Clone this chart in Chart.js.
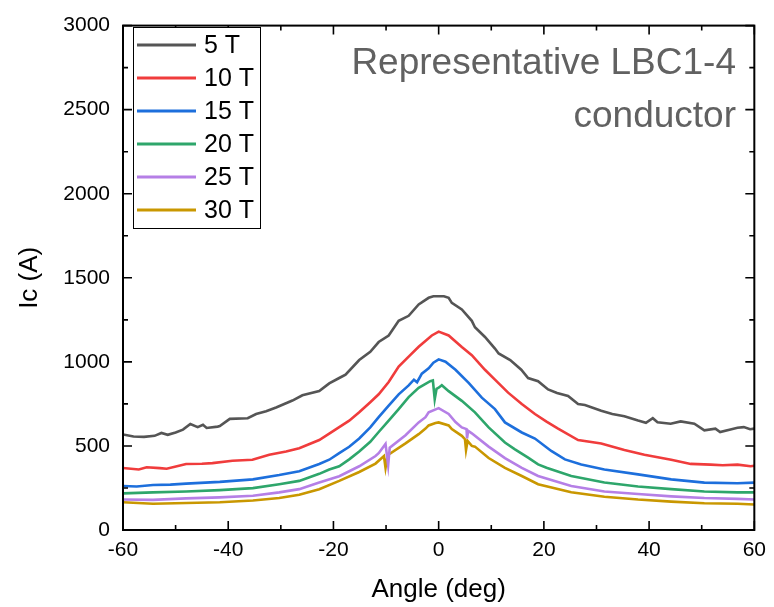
<!DOCTYPE html>
<html lang="en">
<head>
    <meta charset="UTF-8">
    <title>Ic vs Angle - LBC1-4</title>
    <script src="https://cdn.jsdelivr.net/npm/chart.js"></script>
    <style>
        body { margin: 0; background: #fff; }
    </style>
</head>
<body>
    <canvas id="icChart" width="774" height="607"></canvas>

    <script>
        // Series: angle (deg) and Ic (A) for each field
        const seriesLabels = ['5 T', '10 T', '15 T', '20 T', '25 T', '30 T'];
        const seriesColors = ['#555555', '#f03c3c', '#1d6fdc', '#2ea66b', '#b57fe6', '#c99700'];

        const angle5T = [-60, -58, -56, -54, -52.7, -51.5, -50, -48.6, -47.2, -45.8, -44.8, -44.1, -42, -41.6, -39.7, -36.3, -34.7, -32.8, -30.9, -27.8, -25.9, -22.7, -20.8, -18.9, -17.7, -15.1, -13, -11.4, -9.5, -7.6, -5.7, -3.8, -1.9, -1, 0, 1, 1.9, 2.5, 4.4, 6.3, 6.9, 8.8, 10.7, 11.4, 13.6, 15.7, 17, 18.9, 20.8, 22.5, 24.6, 26.5, 27.8, 30.9, 33, 35.3, 37.9, 39.4, 40.7, 41.6, 44.1, 46, 48.6, 50.5, 52.6, 53.5, 56.8, 58, 59.2, 60];
        const ic5T = [568, 556, 554, 560, 577, 566, 580, 597, 630, 612, 626, 607, 615, 618, 661, 665, 690, 706, 729, 770, 801, 826, 872, 904, 924, 1011, 1060, 1118, 1157, 1244, 1274, 1342, 1381, 1390, 1390, 1390, 1381, 1351, 1312, 1244, 1206, 1148, 1079, 1050, 1011, 953, 904, 885, 836, 815, 797, 749, 743, 709, 690, 676, 651, 638, 665, 641, 632, 646, 632, 593, 603, 583, 608, 612, 599, 603];

        const angle10T = [-60, -57, -55.5, -53, -51.7, -48, -45, -43, -39.2, -35.4, -32.2, -29, -26.5, -22.7, -20.8, -18.9, -17, -15.1, -13, -11.4, -9.5, -7.6, -5.7, -3.8, -1.3, 0, 1.9, 4.4, 6.3, 8.8, 10.7, 13.2, 15.8, 18.3, 20.5, 22.7, 26.5, 30.9, 35.3, 39.1, 44.2, 47.9, 51.7, 54, 56.8, 59.3, 60];
        const ic10T = [369, 360, 373, 368, 364, 393, 394, 398, 412, 418, 447, 467, 486, 535, 573, 612, 650, 700, 760, 807, 880, 972, 1031, 1090, 1157, 1180, 1157, 1089, 1040, 953, 894, 817, 749, 690, 645, 603, 535, 515, 476, 447, 418, 393, 389, 385, 389, 379, 382];

        const angle15T = [-60, -57.4, -54.3, -51, -48, -41.6, -35.3, -30.3, -26.5, -22.7, -20.8, -18.9, -17, -15.1, -13, -11.4, -9.5, -7.6, -5.7, -4.7, -4.1, -3.2, -1.9, -1, 0, 1.3, 3.2, 5.7, 8.2, 10.7, 12.6, 15.8, 18.3, 21.4, 24, 27.1, 31.5, 37.9, 44.2, 50.5, 56.8, 60];
        const ic15T = [262, 259, 268, 270, 276, 286, 301, 327, 350, 393, 418, 457, 495, 544, 610, 671, 740, 807, 860, 894, 879, 930, 962, 995, 1015, 1001, 953, 875, 787, 719, 640, 580, 544, 470, 420, 389, 360, 331, 301, 282, 278, 282];

        const angle20T = [-60, -54.3, -48, -41.6, -35.3, -30.3, -26.5, -22.7, -20.8, -18.9, -17, -15.1, -13, -11.4, -9.5, -7.6, -5.7, -3.8, -1.6, -1.1, -0.75, -0.4, 0, 0.6, 1.9, 4.4, 6.9, 9.5, 12.6, 14.5, 17, 18.9, 20.5, 25.2, 31.5, 37.9, 44.2, 50.5, 56.8, 60];
        const ic20T = [218, 224, 229, 237, 249, 272, 292, 334, 360, 379, 420, 467, 525, 583, 650, 719, 790, 846, 885, 890, 778, 840, 846, 861, 826, 768, 700, 610, 520, 480, 430, 390, 370, 321, 282, 259, 243, 229, 224, 224];

        const angle25T = [-60, -54.3, -48, -41.6, -35.3, -30.3, -26.5, -22.7, -18.9, -15.1, -12, -11.4, -10.1, -9.6, -9.3, -6.3, -3.8, -2.5, -1.9, 0, 1.9, 3.2, 4.4, 5.3, 5.4, 5.6, 6.3, 9.5, 12.6, 15.8, 18.9, 25.2, 31.5, 37.9, 44.2, 50.5, 56.8, 60];
        const ic25T = [181, 179, 188, 194, 204, 224, 243, 282, 320, 379, 440, 457, 512, 385, 490, 564, 640, 671, 700, 725, 690, 642, 610, 600, 545, 590, 575, 496, 428, 370, 321, 262, 229, 214, 200, 190, 185, 181];

        const angle30T = [-60, -54.3, -48, -41.6, -35.3, -30.3, -26.5, -22.7, -18.9, -15.1, -12, -10.4, -10.1, -9.7, -6.3, -3.8, -2.5, -1.9, -0.6, 0, 1.9, 2.5, 4.4, 5, 5.2, 5.5, 6.3, 6.9, 9.5, 12.6, 15.8, 18.9, 25.2, 31.5, 37.9, 44.2, 50.5, 56.8, 60];
        const ic30T = [165, 156, 161, 165, 175, 190, 210, 243, 292, 345, 395, 440, 370, 445, 515, 570, 603, 622, 636, 640, 622, 600, 560, 540, 476, 530, 500, 496, 428, 369, 321, 272, 224, 198, 181, 169, 159, 156, 152];

        const angleSets = [angle5T, angle10T, angle15T, angle20T, angle25T, angle30T];
        const icSets = [ic5T, ic10T, ic15T, ic20T, ic25T, ic30T];

        const xTicks = [-60, -40, -20, 0, 20, 40, 60];
        const yTicks = [0, 500, 1000, 1500, 2000, 2500, 3000];

        const datasets = seriesLabels.map((label, i) => ({
            label: label,
            data: angleSets[i].map((a, j) => ({ x: a, y: icSets[i][j] })),
            borderColor: seriesColors[i],
            backgroundColor: seriesColors[i],
            borderWidth: 2.6,
            pointRadius: 0,
            tension: 0,
            fill: false
        }));

        // Inward ticks on all four sides plus the frame
        const framePlugin = {
            id: 'frame',
            afterDatasetsDraw(chart) {
                const { ctx, chartArea: a, scales: { x, y } } = chart;
                ctx.save();
                ctx.strokeStyle = '#000';
                ctx.lineWidth = 1.6;
                for (let v = -60; v <= 60; v += 10) {
                    const px = x.getPixelForValue(v);
                    const len = (v % 20 === 0) ? 9 : 5;
                    ctx.beginPath();
                    ctx.moveTo(px, a.bottom); ctx.lineTo(px, a.bottom - len);
                    ctx.moveTo(px, a.top); ctx.lineTo(px, a.top + len);
                    ctx.stroke();
                }
                for (let v = 0; v <= 3000; v += 250) {
                    const py = y.getPixelForValue(v);
                    const len = (v % 500 === 0) ? 9 : 5;
                    ctx.beginPath();
                    ctx.moveTo(a.left, py); ctx.lineTo(a.left + len, py);
                    ctx.moveTo(a.right, py); ctx.lineTo(a.right - len, py);
                    ctx.stroke();
                }
                ctx.lineWidth = 2;
                ctx.strokeRect(a.left, a.top, a.right - a.left, a.bottom - a.top);

                // legend box
                const bx = 133, by = 27, bw = 127, bh = 201;
                ctx.fillStyle = '#fff';
                ctx.fillRect(bx, by, bw, bh);
                ctx.lineWidth = 1;
                ctx.strokeRect(bx + 0.5, by + 0.5, bw, bh);
                ctx.font = '25px "Liberation Sans", Arial, sans-serif';
                ctx.textBaseline = 'middle';
                ctx.textAlign = 'left';
                chart.data.datasets.forEach((ds, i) => {
                    const cy = 45 + i * 33;
                    ctx.strokeStyle = ds.borderColor;
                    ctx.lineWidth = 3;
                    ctx.beginPath();
                    ctx.moveTo(137, cy); ctx.lineTo(196, cy);
                    ctx.stroke();
                    ctx.fillStyle = '#000';
                    ctx.fillText(ds.label, 204, cy + 1);
                });

                // annotation
                ctx.fillStyle = '#616161';
                ctx.font = '37px "Liberation Sans", Arial, sans-serif';
                ctx.textAlign = 'right';
                ctx.textBaseline = 'alphabetic';
                ctx.fillText('Representative LBC1-4', 736, 74);
                ctx.fillText('conductor', 736, 127);
                ctx.restore();
            }
        };

        const ctx = document.getElementById('icChart').getContext('2d');
        const icChart = new Chart(ctx, {
            type: 'line',
            data: { datasets: datasets },
            options: {
                responsive: false,
                animation: false,
                layout: { padding: { top: 16, right: 17, left: 0, bottom: 0 } },
                scales: {
                    x: {
                        type: 'linear',
                        min: -60,
                        max: 60,
                        afterFit: (s) => { s.height = 77; },
                        afterBuildTicks: (s) => { s.ticks = xTicks.map(v => ({ value: v })); },
                        grid: { display: false, drawTicks: false },
                        border: { display: false },
                        ticks: {
                            padding: 8,
                            color: '#000',
                            callback: (v) => String(v),
                            font: { family: '"Liberation Sans", Arial, sans-serif', size: 21 }
                        },
                        title: {
                            display: true,
                            text: 'Angle (deg)',
                            color: '#000',
                            padding: { top: 0, bottom: 2 },
                            font: { family: '"Liberation Sans", Arial, sans-serif', size: 26 }
                        }
                    },
                    y: {
                        min: 0,
                        max: 3000,
                        afterFit: (s) => { s.width = 123; },
                        afterBuildTicks: (s) => { s.ticks = yTicks.map(v => ({ value: v })); },
                        grid: { display: false, drawTicks: false },
                        border: { display: false },
                        ticks: {
                            padding: 13,
                            color: '#000',
                            callback: (v) => String(v),
                            font: { family: '"Liberation Sans", Arial, sans-serif', size: 21 }
                        },
                        title: {
                            display: true,
                            text: 'Ic (A)',
                            color: '#000',
                            padding: { top: 14, bottom: 0 },
                            font: { family: '"Liberation Sans", Arial, sans-serif', size: 26 }
                        }
                    }
                },
                plugins: {
                    legend: { display: false },
                    tooltip: { enabled: false }
                }
            },
            plugins: [framePlugin]
        });
    </script>
</body>
</html>
